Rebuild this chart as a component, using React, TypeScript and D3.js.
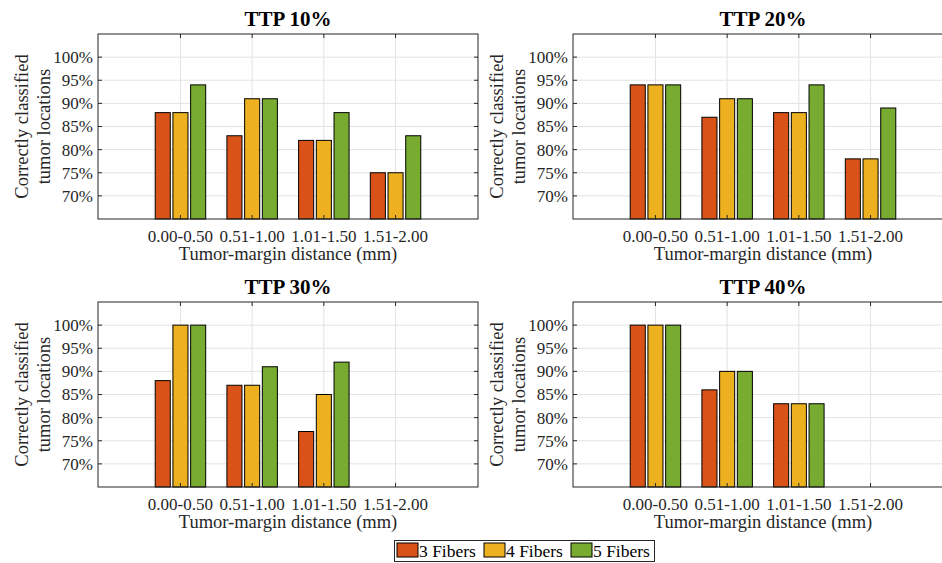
import React from 'react';
import * as d3 from 'd3';

const categories = ['0.00-0.50', '0.51-1.00', '1.01-1.50', '1.51-2.00'];
const seriesNames = ['3 Fibers', '4 Fibers', '5 Fibers'];
const seriesColors = ['#D95319', '#EDB120', '#77AC30'];
const yTicks = [70, 75, 80, 85, 90, 95, 100];

const ttp10Fiber3 = [88, 83, 82, 75];
const ttp10Fiber4 = [88, 91, 82, 75];
const ttp10Fiber5 = [94, 91, 88, 83];

const ttp20Fiber3 = [94, 87, 88, 78];
const ttp20Fiber4 = [94, 91, 88, 78];
const ttp20Fiber5 = [94, 91, 94, 89];

const ttp30Fiber3 = [88, 87, 77, null];
const ttp30Fiber4 = [100, 87, 85, null];
const ttp30Fiber5 = [100, 91, 92, null];

const ttp40Fiber3 = [100, 86, 83, null];
const ttp40Fiber4 = [100, 90, 83, null];
const ttp40Fiber5 = [100, 90, 83, null];

const panels = [
  { title: 'TTP 10%', series: [ttp10Fiber3, ttp10Fiber4, ttp10Fiber5], left: 98, top: 34 },
  { title: 'TTP 20%', series: [ttp20Fiber3, ttp20Fiber4, ttp20Fiber5], left: 573, top: 34 },
  { title: 'TTP 30%', series: [ttp30Fiber3, ttp30Fiber4, ttp30Fiber5], left: 98, top: 302 },
  { title: 'TTP 40%', series: [ttp40Fiber3, ttp40Fiber4, ttp40Fiber5], left: 573, top: 302 },
];

const W = 380;
const H = 185;
const font = "'Liberation Serif', 'DejaVu Serif', serif";
const axisColor = '#262626';
const gridColor = '#e3e3e3';
const tickLen = 4;

// bar layout in category units
const barOffsets = [-0.247, 0, 0.247];
const barWidth = 0.21;

function Panel({ title, series, left, top }: any) {
  const x = d3.scaleLinear().domain([-0.15, 5.15]).range([0, W]);
  const y = d3.scaleLinear().domain([65, 105]).range([H, 0]);
  const bw = x(barWidth) - x(0);

  return (
    <g transform={`translate(${left},${top})`}>
      <rect x={0} y={0} width={W} height={H} fill="#fff" />
      {yTicks.map(t => (
        <line key={'gy' + t} x1={0} x2={W} y1={y(t)} y2={y(t)} stroke={gridColor} strokeWidth={1} />
      ))}
      {categories.map((c, i) => (
        <line key={'gx' + c} x1={x(i + 1)} x2={x(i + 1)} y1={0} y2={H} stroke={gridColor} strokeWidth={1} />
      ))}
      {series.map((vals: (number | null)[], s: number) =>
        vals.map((v, i) =>
          v == null ? null : (
            <rect
              key={`b${s}-${i}`}
              x={x(i + 1 + barOffsets[s]) - bw / 2}
              y={y(v)}
              width={bw}
              height={H - y(v)}
              fill={seriesColors[s]}
              stroke="#000"
              strokeWidth={1}
            />
          )
        )
      )}
      {/* ticks on every side, pointing inward */}
      {yTicks.map(t => (
        <g key={'ty' + t}>
          <line x1={0} x2={tickLen} y1={y(t)} y2={y(t)} stroke={axisColor} />
          <line x1={W} x2={W - tickLen} y1={y(t)} y2={y(t)} stroke={axisColor} />
          <text x={-5} y={y(t)} dy="0.35em" textAnchor="end" fontSize={17} fill={axisColor}>
            {t}%
          </text>
        </g>
      ))}
      {categories.map((c, i) => (
        <g key={'tx' + c}>
          <line x1={x(i + 1)} x2={x(i + 1)} y1={H} y2={H - tickLen} stroke={axisColor} />
          <line x1={x(i + 1)} x2={x(i + 1)} y1={0} y2={tickLen} stroke={axisColor} />
          <text x={x(i + 1)} y={H + 22.7} textAnchor="middle" fontSize={17} fill={axisColor}>
            {c}
          </text>
        </g>
      ))}
      <rect x={0} y={0} width={W} height={H} fill="none" stroke={axisColor} strokeWidth={1} />
      <text x={W / 2} y={-8.3} textAnchor="middle" fontSize={21} fontWeight="bold" fill="#000">
        {title}
      </text>
      <text x={W / 2} y={H + 41} textAnchor="middle" fontSize={18.5} fill={axisColor}>
        Tumor-margin distance (mm)
      </text>
      <g transform={`translate(${-98},${H / 2}) rotate(-90)`}>
        <text x={0} y={27.5} textAnchor="middle" fontSize={18.5} fill={axisColor}>
          Correctly classified
        </text>
        <text x={0} y={50} textAnchor="middle" fontSize={18.5} fill={axisColor}>
          tumor locations
        </text>
      </g>
    </g>
  );
}

function Legend() {
  const itemX = [397, 484, 571];
  return (
    <g>
      <rect x={394.5} y={540.5} width={260} height={21} fill="#fff" stroke={axisColor} strokeWidth={1} />
      {seriesNames.map((n, i) => (
        <g key={n}>
          <rect x={itemX[i]} y={543} width={21} height={14} fill={seriesColors[i]} stroke="#000" strokeWidth={1} />
          <text x={itemX[i] + 22} y={556.5} fontSize={17.5} fill="#000">
            {n}
          </text>
        </g>
      ))}
    </g>
  );
}

export default function App() {
  return (
    <svg
      width={942}
      height={563}
      style={{ position: 'absolute', left: 0, top: 0, background: '#fff', fontFamily: font }}
    >
      <rect width={942} height={563} fill="#fff" />
      {panels.map(p => (
        <Panel key={p.title} {...p} />
      ))}
      <Legend />
    </svg>
  );
}
